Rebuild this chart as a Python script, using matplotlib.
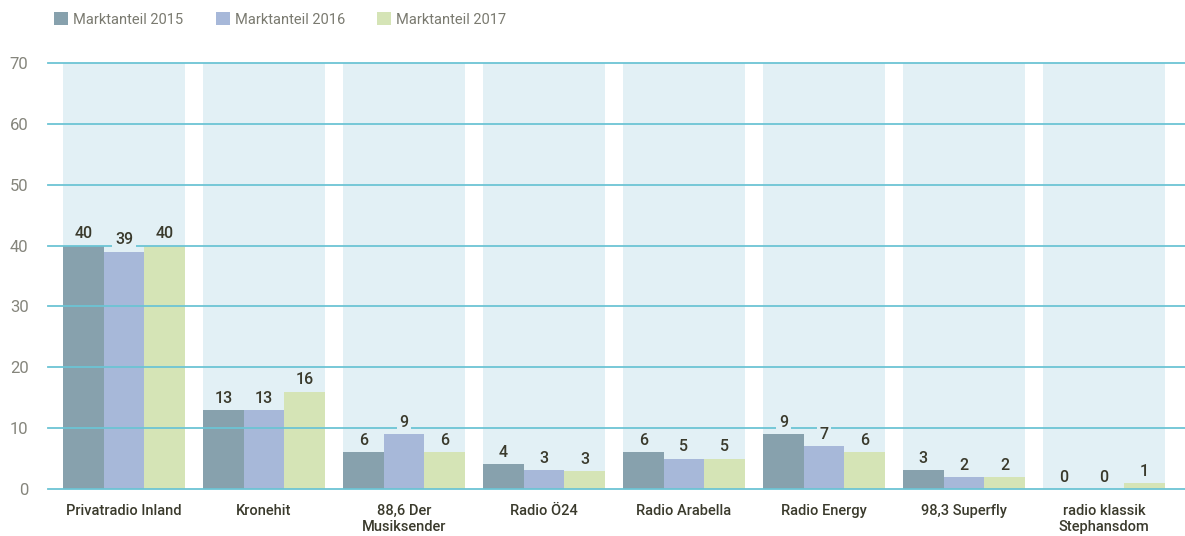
import matplotlib
matplotlib.use("Agg")
import matplotlib.pyplot as plt
import numpy as np
from matplotlib.patches import Patch

categories = ["Privatradio Inland", "Kronehit", "88,6 Der\nMusiksender", "Radio Ö24",
              "Radio Arabella", "Radio Energy", "98,3 Superfly", "radio klassik\nStephansdom"]
series_names = ["Marktanteil 2015", "Marktanteil 2016", "Marktanteil 2017"]
v2015 = [40, 13, 6, 4.1, 6, 9, 3.1, 0]
v2016 = [39, 13, 9, 3.1, 5, 7, 2, 0]
v2017 = [40, 16, 6, 2.9, 5, 6, 2, 1]
labels2015 = [40, 13, 6, 4, 6, 9, 3, 0]
labels2016 = [39, 13, 9, 3, 5, 7, 2, 0]
labels2017 = [40, 16, 6, 3, 5, 6, 2, 1]
yticks = [0, 10, 20, 30, 40, 50, 60, 70]

colors = ["#87a1ad", "#a7b8d9", "#d5e4b6"]
band_color = "#e2f0f5"
grid_color = "#6cc4d4"
text_dark = "#3a3a2c"
tick_gray = "#85857c"

cond = ["Roboto", "DejaVu Sans"]

fig = plt.figure(figsize=(11.85, 5.36), dpi=100)
ax = fig.add_axes([48/1185, 1 - 489/536, 1 - 48/1185, (489 - 63)/536])

n = len(categories)
x = np.arange(n)
band_w = 122/140
bw = band_w/3

for i in x:
    ax.bar(i, 70, width=band_w, color=band_color, zorder=0)

series = [v2015, v2016, v2017]
labs = [labels2015, labels2016, labels2017]
for k in range(3):
    pos = x - band_w/2 + bw*(k + 0.5)
    ax.bar(pos, series[k], width=bw, color=colors[k], zorder=1)
    for p, v, l in zip(pos, series[k], labs[k]):
        ax.text(p, v + 0.7, str(l), ha="center", va="bottom", fontsize=11.5,
                family=cond, fontweight="medium", color=text_dark, zorder=4,
                bbox=dict(facecolor=band_color, edgecolor="none", pad=2))

for t in yticks:
    ax.axhline(t, color=grid_color, lw=1.3, zorder=2, clip_on=False)

ax.set_xlim((48 - 124)/140, (1185 - 124)/140)
ax.set_ylim(0, 70)
ax.set_yticks(yticks)
ax.set_yticklabels([str(t) for t in yticks], color=tick_gray, fontsize=12,
                   family=["Roboto", "DejaVu Sans"])
ax.set_xticks(x)
ax.set_xticklabels(categories, family=cond, fontweight="medium", fontsize=10.5,
                   color=text_dark, linespacing=1.2, va="top")
ax.tick_params(axis="both", length=0)
ax.tick_params(axis="x", pad=11)
ax.tick_params(axis="y", pad=14)
for s in ax.spines.values():
    s.set_visible(False)

handles = [Patch(facecolor=c, edgecolor="none") for c in colors]
fig.legend(handles, series_names, loc="upper left", bbox_to_anchor=(42/1185, 1.0),
           ncol=3, frameon=False, handlelength=0.96, handleheight=1.0,
           handletextpad=0.34, columnspacing=2.2, labelcolor="#7a7a70",
           prop=dict(family=["Roboto", "DejaVu Sans"], size=10.5),
           borderaxespad=0.45)

fig.savefig("out.png", dpi=100)
